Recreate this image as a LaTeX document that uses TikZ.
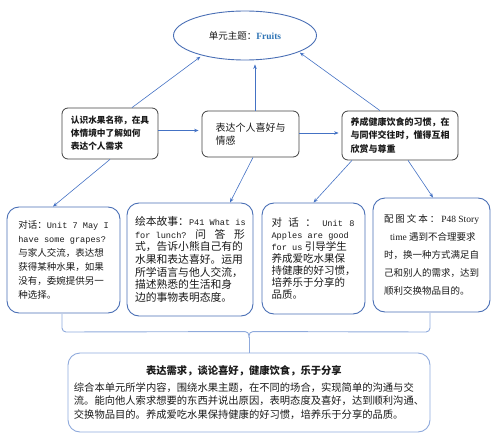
\documentclass[tikz,border=0pt]{standalone}
\usepackage{fontspec}
\setmainfont{Noto Sans CJK SC}
\newfontfamily\monof{Liberation Mono}
\newfontfamily\seriff{Liberation Serif}
\usetikzlibrary{shapes.geometric,arrows.meta}
\definecolor{arrblue}{HTML}{4472C4}
\definecolor{boxblue}{HTML}{4A6FB5}
\definecolor{lightblue}{HTML}{8FAADC}
\definecolor{topgray}{HTML}{404040}
\definecolor{fruitblue}{HTML}{2E74B5}
\definecolor{txt}{HTML}{1A1A1A}
\newcommand\mt[1]{{\monof\fontsize{8.6}{8.6}\selectfont #1}}
\newcommand\sr[1]{{\seriff\fontsize{9.5}{9.5}\selectfont #1}}
\begin{document}
\begin{tikzpicture}[x=1pt,y=-1pt,
  arr/.style={draw=arrblue, line width=0.6pt, -{Stealth[length=4.5pt,width=3.5pt]}},
  topbox/.style={draw=topgray, line width=0.8pt, rounded corners=6pt, align=left, inner sep=0pt, text=txt},
  botbox/.style={draw=boxblue, line width=0.9pt, rounded corners=12pt, align=left, inner sep=0pt, text=txt},
  bracel/.style={draw=lightblue, line width=0.9pt},
]
\useasboundingbox (0,0) rectangle (500,441);
% ellipse
\node[ellipse, draw=boxblue, line width=0.9pt, minimum width=143pt, minimum height=49pt, inner sep=0pt,
  font=\fontsize{9.5}{12}\selectfont, text=txt] (E) at (245,35.5)
  {单元主题：{\seriff\bfseries\color{fruitblue}Fruits}};
% top boxes
\node[topbox, minimum width=96pt, minimum height=51pt, font=\fontsize{8.7}{13}\selectfont\bfseries] (A) at (110,133.5)
  {认识水果名称，在具\\体情境中了解如何\\表达个人需求};
\node[topbox, minimum width=97pt, minimum height=46pt, font=\fontsize{10}{13}\selectfont] (B) at (250.5,134)
  {表达个人喜好与\\情感};
\node[topbox, minimum width=116pt, minimum height=49pt, font=\fontsize{9}{13.5}\selectfont\bfseries] (C) at (400,135.5)
  {养成健康饮食的习惯，在\\与同伴交往时，懂得互相\\欣赏与尊重};
% bottom boxes
\node[botbox, minimum width=113pt, minimum height=106pt, font=\fontsize{9.5}{14}\selectfont] (D1) at (63.5,260)
  {对话：\mt{Unit 7 May I}\\
   \mt{have some grapes?}\\
   与家人交流，表达想\\
   获得某种水果，如果\\
   没有，委婉提供另一\\
   种选择。};
\node[botbox, minimum width=126pt, minimum height=113pt, font=\fontsize{10.8}{12.6}\selectfont] (D2) at (190,259.5)
  {\makebox[110pt][l]{绘本故事：\mt{P41 What is}}\\
   \makebox[110pt][l]{\mt{for lunch?}\hfill 问\hfill 答\hfill 形}\\
   式，告诉小熊自己有的\\
   水果和表达喜好。运用\\
   所学语言与他人交流，\\
   描述熟悉的生活和身\\
   边的事物表明态度。};
\node[botbox, minimum width=103pt, minimum height=111pt, font=\fontsize{10.5}{12}\selectfont] (D3) at (313.5,258.5)
  {\makebox[83pt][l]{对\hfill 话\hfill ：\hfill \mt{Unit}\hfill \mt{8}}\\
   \mt{Apples are good}\\
   \mt{for us} 引导学生\\
   养成爱吃水果保\\
   持健康的好习惯，\\
   培养乐于分享的\\
   品质。};
\node[botbox, minimum width=117pt, minimum height=114pt, font=\fontsize{9.5}{18}\selectfont] (D4) at (431.5,255)
  {\makebox[95pt][l]{配\hfill 图\hfill 文\hfill 本\hfill ：\hfill \sr{P48 Story}}\\
   \hspace*{6pt}\sr{time} 遇到不合理要求\\
   时，换一种方式满足自\\
   己和别人的需求，达到\\
   顺利交换物品目的。};
% final box
\node[draw=lightblue, line width=0.9pt, rounded corners=12pt, minimum width=362pt, minimum height=79pt,
  inner sep=0pt, align=left, text=txt, font=\fontsize{10.3}{13.5}\selectfont] (F) at (249,392.5)
  {\makebox[340pt][c]{\bfseries 表达需求，谈论喜好，健康饮食，乐于分享}\\[3pt]
   综合本单元所学内容，围绕水果主题，在不同的场合，实现简单的沟通与交\\
   流。能向他人索求想要的东西并说出原因，表明态度及喜好，达到顺利沟通、\\
   交换物品目的。养成爱吃水果保持健康的好习惯，培养乐于分享的品质。};
% arrows up to ellipse
\draw[arr, shorten >=2pt] ([xshift=22pt]A.north) -- (E.205);
\draw[arr, shorten >=4pt] ([xshift=4.5pt]B.north) -- ([xshift=4.5pt]B.north |- E.south);
\draw[arr, shorten >=1pt] ([xshift=-20pt]C.north) -- (E.343);
% horizontal arrows
\draw[arr, shorten >=3pt] ([yshift=3pt]A.east) -- ([yshift=3.5pt]B.west);
\draw[arr, shorten >=3pt] ([yshift=1pt]B.east) -- ([yshift=2.5pt]C.west);
% down arrows
\draw[arr] (A.south) -- ([xshift=-10.5pt]D1.north);
\draw[arr] ([xshift=2.5pt]B.south) -- ([xshift=40pt]D2.north);
\draw[arr] ([xshift=-48pt]C.south) -- (D3.north);
\draw[arr] ([xshift=8pt]C.south) -- ([xshift=1.5pt]D4.north);
% brace
\coordinate (bl) at (62,314);
\coordinate (br) at (430,313);
\coordinate (bt) at (F.north);
\draw[bracel, rounded corners=4pt]
  (bl) -- (bl |- 0,332) -- ([yshift=21pt]bt) -- ([yshift=15pt]bt);
\draw[bracel, rounded corners=4pt]
  (br) -- (br |- 0,332) -- ([yshift=21pt]bt) -- ([yshift=15pt]bt);
\draw[bracel] ([yshift=16pt]bt) -- (bt);
\end{tikzpicture}
\end{document}
